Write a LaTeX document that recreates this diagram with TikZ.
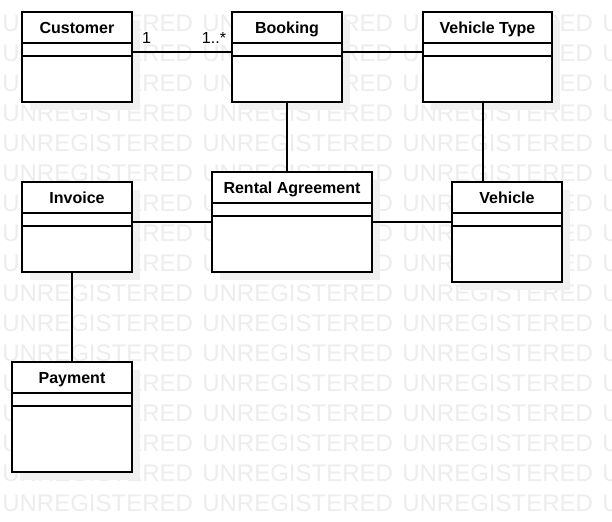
\documentclass[tikz,border=0pt]{standalone}
\usepackage{fontspec}
\setmainfont{Liberation Sans}
\usetikzlibrary{calc}
\definecolor{wmgray}{HTML}{EDEDED}
\definecolor{shadowc}{HTML}{F0F0F0}
\tikzset{
  classbox/.style={draw=black, line width=1pt, fill=white, rectangle, inner sep=0pt, outer sep=0pt},
  boxline/.style={draw=black, line width=1pt},
  classtitle/.style={font=\fontsize{12}{14}\selectfont\bfseries, inner sep=0pt, anchor=base},
  mult/.style={font=\fontsize{12}{14}\selectfont, inner sep=0pt, anchor=base},
  assoc/.style={draw=black, line width=0.9pt},
  watermark/.style={font=\fontsize{18}{20}\selectfont, text=wmgray, inner sep=0pt, anchor=west},
  shadowbox/.style={fill=shadowc}
}
\newcommand\umlbox[6]{%
  \pgfmathsetmacro\bw{(#4-#2)*0.75}%
  \pgfmathsetmacro\bh{(#5-#3)*0.75}%
  \fill[shadowbox] (#2+8,#3+8) rectangle (#4+8,#5+8);
  \node[classbox, minimum width=\bw pt, minimum height=\bh pt, anchor=north west] (#1) at (#2,#3) {};
  \node[classtitle] (#1-t) at ({(#2+#4)/2},{#3+21.3}) {#6};
  \draw[boxline] (#2,#3+31) -- (#4,#3+31) (#2,#3+44) -- (#4,#3+44);
}
\begin{document}
\begin{tikzpicture}[x=0.75pt,y=-0.75pt]
\useasboundingbox (0,0) rectangle (612,522);
\fill[white] (0,0) rectangle (612,522);
% watermark
\foreach \r in {0,...,16}{
  \foreach \c in {0,1,2}{
    \node[watermark] (wm-\r-\c) at ({2+200*\c},{23+30*\r}) {UNREGISTERED};
  }
  \node[watermark] (wm-\r-3) at (602,{23+30*\r}) {U};
}
% classes
\umlbox{cust}{22}{12}{132}{102}{Customer}
\umlbox{book}{232}{12}{342}{102}{Booking}
\umlbox{vt}{423}{12}{552}{102}{Vehicle Type}
\umlbox{inv}{22}{182}{132}{272}{Invoice}
\umlbox{rent}{212}{172}{372}{272}{Rental Agreement}
\umlbox{veh}{452}{182}{562}{282}{Vehicle}
\umlbox{pay}{12}{362}{132}{472}{Payment}
% associations
\draw[assoc] ([yshift=3.75pt]cust.east) -- ([yshift=3.75pt]book.west);
\draw[assoc] ([yshift=3.75pt]book.east) -- ([yshift=3.75pt]vt.west);
\draw[assoc] (book.south) -- (book.south |- rent.north);
\draw[assoc] ([xshift=-3.4pt]vt.south) -- ([xshift=-3.4pt]vt.south |- veh.north);
\draw[assoc] (rent.west) -- (rent.west -| inv.east);
\draw[assoc] (rent.east) -- (rent.east -| veh.west);
\draw[assoc] (pay.north) -- (pay.north |- inv.south);
% multiplicities
\node[mult] (m1) at (146.5,43.3) {1};
\node[mult] (m2) at (214,43.3) {1..*};
\end{tikzpicture}
\end{document}
